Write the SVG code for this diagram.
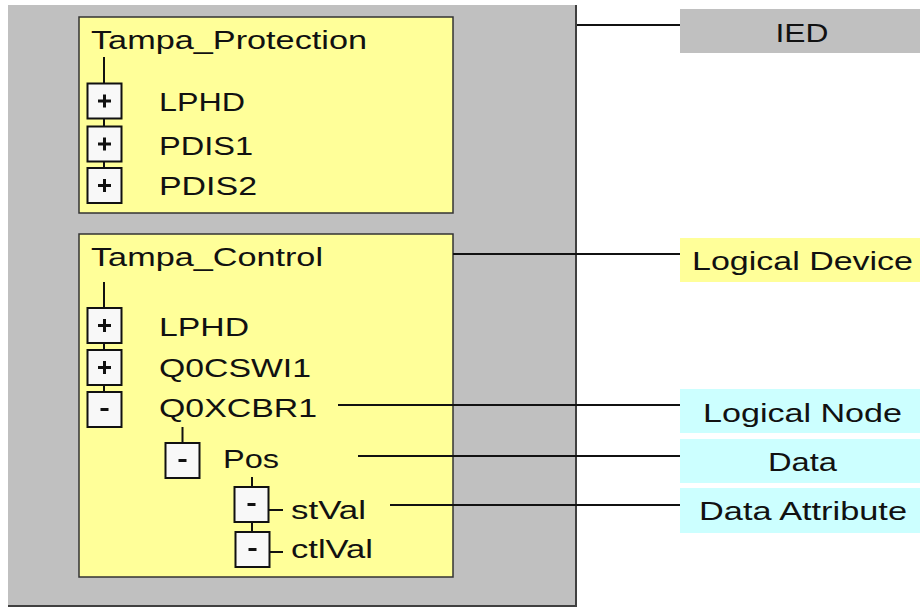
<svg xmlns="http://www.w3.org/2000/svg" width="920" height="609" viewBox="0 0 920 609">
  <defs>
    <style>
      .txt { font-family: "Liberation Sans", Arial, sans-serif; font-size: 26px; fill: #111; }
      .mid { text-anchor: middle; }
      .panel { fill: #ffff99; stroke: #333; stroke-width: 1.5; }
      .tog { fill: #f8f8f8; stroke: #111; stroke-width: 2; }
      .glyph { fill: #111; }
      .wire { stroke: #111; stroke-width: 2; fill: none; }
      .lead { stroke: #111; stroke-width: 2; fill: none; }
    </style>
    <!-- expand / collapse toggle glyphs, drawn around the origin -->
    <g id="plus">
      <rect x="-17" y="-17.5" width="34" height="35" class="tog"/>
      <rect x="-6.5" y="-1.5" width="13" height="3" class="glyph"/>
      <rect x="-1.5" y="-6.5" width="3" height="13" class="glyph"/>
    </g>
    <g id="minus">
      <rect x="-17" y="-17.5" width="34" height="35" class="tog"/>
      <rect x="-4" y="-1.5" width="8" height="3" class="glyph"/>
    </g>
  </defs>

  <rect width="920" height="609" fill="#ffffff"/>

  <!-- IED container -->
  <g id="ied">
    <rect x="8" y="5" width="568" height="601" fill="#c0c0c0"/>
    <polyline points="8,606 576,606 576,5" fill="none" stroke="#404040" stroke-width="2"/>
  </g>

  <!-- Logical device: Tampa_Protection -->
  <g id="ld-protection">
    <rect x="79" y="17" width="374" height="196" class="panel"/>
    <text x="91" y="49" class="txt" textLength="276" lengthAdjust="spacingAndGlyphs">Tampa_Protection</text>
    <line x1="104" y1="57" x2="104" y2="190" class="wire"/>
    <use href="#plus" x="104.5" y="101"/>
    <use href="#plus" x="104.5" y="144"/>
    <use href="#plus" x="104.5" y="185.5"/>
    <text x="159" y="111" class="txt" textLength="86" lengthAdjust="spacingAndGlyphs">LPHD</text>
    <text x="159" y="155" class="txt" textLength="94" lengthAdjust="spacingAndGlyphs">PDIS1</text>
    <text x="159" y="195" class="txt" textLength="98" lengthAdjust="spacingAndGlyphs">PDIS2</text>
  </g>

  <!-- Logical device: Tampa_Control -->
  <g id="ld-control">
    <rect x="79" y="234" width="374" height="343" class="panel"/>
    <text x="91" y="266" class="txt" textLength="232" lengthAdjust="spacingAndGlyphs">Tampa_Control</text>
    <line x1="104" y1="282" x2="104" y2="410" class="wire"/>
    <use href="#plus" x="104.5" y="325.5"/>
    <use href="#plus" x="104.5" y="367.5"/>
    <use href="#minus" x="104.5" y="409.5"/>
    <text x="159" y="336" class="txt" textLength="90" lengthAdjust="spacingAndGlyphs">LPHD</text>
    <text x="159" y="377" class="txt" textLength="152" lengthAdjust="spacingAndGlyphs">Q0CSWI1</text>
    <text x="159" y="417" class="txt" textLength="158" lengthAdjust="spacingAndGlyphs">Q0XCBR1</text>
  </g>

  <!-- Data object Pos under Q0XCBR1 -->
  <g id="do-pos">
    <line x1="182.5" y1="427" x2="182.5" y2="443" class="wire"/>
    <use href="#minus" x="182.5" y="460.5"/>
    <text x="223" y="468" class="txt" textLength="56" lengthAdjust="spacingAndGlyphs">Pos</text>
  </g>

  <!-- Data attributes of Pos -->
  <g id="da-stval">
    <line x1="252" y1="477" x2="252" y2="550" class="wire"/>
    <use href="#minus" x="251.5" y="504.5"/>
    <line x1="269" y1="510" x2="283" y2="510" class="wire"/>
    <text x="291" y="519" class="txt" textLength="75" lengthAdjust="spacingAndGlyphs">stVal</text>
  </g>
  <g id="da-ctlval">
    <use href="#minus" x="252.5" y="549.5"/>
    <line x1="270" y1="552" x2="283" y2="552" class="wire"/>
    <text x="291" y="558" class="txt" textLength="82" lengthAdjust="spacingAndGlyphs">ctlVal</text>
  </g>

  <!-- Legend labels -->
  <g id="label-ied">
    <rect x="680" y="9" width="240" height="44" fill="#c0c0c0"/>
    <text x="802" y="42" class="txt mid" textLength="53" lengthAdjust="spacingAndGlyphs">IED</text>
  </g>
  <g id="label-logical-device">
    <rect x="680" y="238" width="240" height="44" fill="#ffff99"/>
    <text x="692" y="270" class="txt" textLength="221" lengthAdjust="spacingAndGlyphs">Logical Device</text>
  </g>
  <g id="label-logical-node">
    <rect x="680" y="389" width="240" height="44" fill="#ccffff"/>
    <text x="703" y="422" class="txt" textLength="199" lengthAdjust="spacingAndGlyphs">Logical Node</text>
  </g>
  <g id="label-data">
    <rect x="680" y="439" width="240" height="44" fill="#ccffff"/>
    <text x="768" y="471" class="txt" textLength="69" lengthAdjust="spacingAndGlyphs">Data</text>
  </g>
  <g id="label-data-attribute">
    <rect x="680" y="488" width="240" height="45" fill="#ccffff"/>
    <text x="699" y="520" class="txt" textLength="208" lengthAdjust="spacingAndGlyphs">Data Attribute</text>
  </g>

  <!-- Leader lines from the tree to the legend -->
  <g id="connectors">
    <line x1="577" y1="25" x2="680" y2="25" class="lead"/>
    <line x1="453" y1="254" x2="680" y2="254" class="lead"/>
    <line x1="338" y1="405" x2="680" y2="405" class="lead"/>
    <line x1="358" y1="456" x2="680" y2="456" class="lead"/>
    <line x1="390" y1="505" x2="680" y2="505" class="lead"/>
  </g>
</svg>
